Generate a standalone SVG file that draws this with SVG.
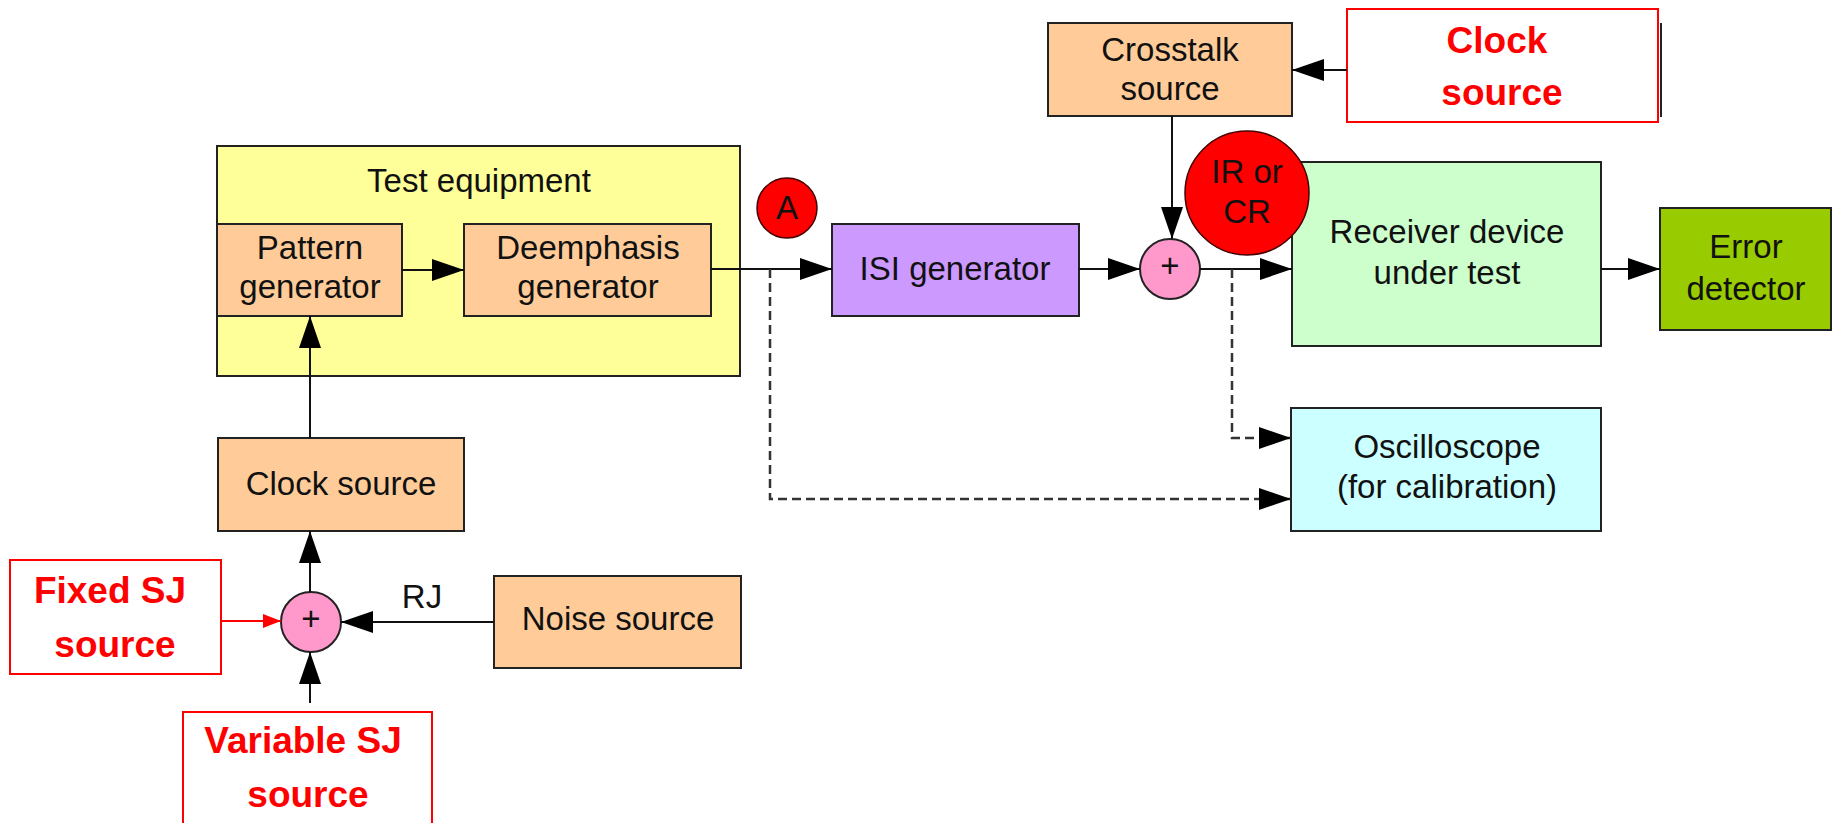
<svg xmlns="http://www.w3.org/2000/svg" width="1837" height="823" viewBox="0 0 1837 823">
<style>
.box{stroke:#222;stroke-width:2}
.t{font-family:"Liberation Sans",Arial,sans-serif;font-size:33px;fill:#111;text-anchor:middle}
.r{font-family:"Liberation Sans",Arial,sans-serif;font-size:37px;font-weight:bold;fill:#f00;text-anchor:middle}
.rbox{fill:#fff;stroke:#f00;stroke-width:2}
.ln{stroke:#111;stroke-width:2;fill:none}
.dash{stroke:#333;stroke-width:2.5;fill:none;stroke-dasharray:9,5}
</style>
<defs>
<marker id="ah" markerWidth="32" markerHeight="22" refX="32" refY="11" orient="auto" markerUnits="userSpaceOnUse">
<path d="M0,0 L32,11 L0,22 Z" fill="#000"/>
</marker>
<marker id="ahr" markerWidth="18" markerHeight="14" refX="18" refY="7" orient="auto" markerUnits="userSpaceOnUse">
<path d="M0,0 L18,7 L0,14 Z" fill="#f00"/>
</marker>
</defs>
<rect width="1837" height="823" fill="#fff"/>

<g id="test-equipment">
<rect class="box" x="217" y="146" width="523" height="230" fill="#ffff99"/>
<text class="t" x="479" y="192" font-size="34">Test equipment</text>
</g>
<g id="pattern-generator">
<rect class="box" x="217" y="224" width="185" height="92" fill="#ffcc99"/>
<text class="t" x="310" y="259">Pattern</text>
<text class="t" x="310" y="298">generator</text>
</g>
<g id="deemphasis-generator">
<rect class="box" x="464" y="224" width="247" height="92" fill="#ffcc99"/>
<text class="t" x="588" y="259">Deemphasis</text>
<text class="t" x="588" y="298">generator</text>
</g>
<g id="marker-a">
<circle cx="787" cy="208" r="30" fill="#f00" stroke="#400" stroke-width="1.5"/>
<text class="t" x="787" y="219" font-size="30">A</text>
</g>
<g id="isi-generator">
<rect class="box" x="832" y="224" width="247" height="92" fill="#cc99ff"/>
<text class="t" x="955" y="280">ISI generator</text>
</g>
<g id="sum-top">
<circle cx="1170" cy="269" r="30" fill="#ff99cc" stroke="#222" stroke-width="2"/>
<text class="t" x="1170" y="277" font-size="22">+</text>
</g>
<g id="crosstalk-source">
<rect class="box" x="1048" y="23" width="244" height="93" fill="#ffcc99"/>
<text class="t" x="1170" y="61">Crosstalk</text>
<text class="t" x="1170" y="100">source</text>
</g>
<g id="clock-source-top">
<line x1="1661" y1="23" x2="1661" y2="117" stroke="#222" stroke-width="2"/>
<rect class="rbox" x="1347" y="9" width="311" height="113"/>
<text class="r" x="1497" y="53">Clock</text>
<text class="r" x="1502" y="105">source</text>
</g>
<g id="receiver">
<rect class="box" x="1292" y="162" width="309" height="184" fill="#ccffcc"/>
<text class="t" x="1447" y="243">Receiver device</text>
<text class="t" x="1447" y="284">under test</text>
</g>
<g id="ir-cr">
<circle cx="1247" cy="193" r="62" fill="#f00" stroke="#400" stroke-width="1.5"/>
<text class="t" x="1247" y="183" font-size="32">IR or</text>
<text class="t" x="1247" y="223" font-size="32">CR</text>
</g>
<g id="error-detector">
<rect class="box" x="1660" y="208" width="171" height="122" fill="#99cc00"/>
<text class="t" x="1746" y="258">Error</text>
<text class="t" x="1746" y="300">detector</text>
</g>
<g id="oscilloscope">
<rect class="box" x="1291" y="408" width="310" height="123" fill="#ccffff"/>
<text class="t" x="1447" y="458">Oscilloscope</text>
<text class="t" x="1447" y="498">(for calibration)</text>
</g>
<g id="clock-source">
<rect class="box" x="218" y="438" width="246" height="93" fill="#ffcc99"/>
<text class="t" x="341" y="495">Clock source</text>
</g>
<g id="sum-bottom">
<circle cx="311" cy="622" r="30" fill="#ff99cc" stroke="#222" stroke-width="2"/>
<text class="t" x="311" y="630" font-size="22">+</text>
</g>
<g id="noise-source">
<rect class="box" x="494" y="576" width="247" height="92" fill="#ffcc99"/>
<text class="t" x="618" y="630">Noise source</text>
</g>
<g id="fixed-sj">
<rect class="rbox" x="10" y="560" width="211" height="114"/>
<text class="r" x="110" y="603">Fixed SJ</text>
<text class="r" x="115" y="657">source</text>
</g>
<g id="variable-sj">
<rect class="rbox" x="183" y="712" width="249" height="120"/>
<text class="r" x="303" y="753">Variable SJ</text>
<text class="r" x="308" y="807">source</text>
</g>

<g id="connectors">
<line class="ln" x1="402" y1="270" x2="464" y2="270" marker-end="url(#ah)"/>
<line class="ln" x1="711" y1="269" x2="832" y2="269" marker-end="url(#ah)"/>
<line class="ln" x1="1079" y1="269" x2="1140" y2="269" marker-end="url(#ah)"/>
<line class="ln" x1="1200" y1="269" x2="1292" y2="269" marker-end="url(#ah)"/>
<line class="ln" x1="1601" y1="269" x2="1660" y2="269" marker-end="url(#ah)"/>
<line class="ln" x1="1347" y1="70" x2="1292" y2="70" marker-end="url(#ah)"/>
<line class="ln" x1="1172" y1="116" x2="1172" y2="239" marker-end="url(#ah)"/>
<path class="dash" d="M770,269 V499 H1291" marker-end="url(#ah)"/>
<path class="dash" d="M1232,269 V438 H1291" marker-end="url(#ah)"/>
<line class="ln" x1="310" y1="438" x2="310" y2="316" marker-end="url(#ah)"/>
<line class="ln" x1="310" y1="592" x2="310" y2="531" marker-end="url(#ah)"/>
<line class="ln" x1="310" y1="703" x2="310" y2="652" marker-end="url(#ah)"/>
<line class="ln" x1="494" y1="622" x2="341" y2="622" marker-end="url(#ah)"/>
<line x1="221" y1="621" x2="281" y2="621" stroke="#f00" stroke-width="2" marker-end="url(#ahr)"/>
<text class="t" x="422" y="608">RJ</text>
</g>
</svg>
